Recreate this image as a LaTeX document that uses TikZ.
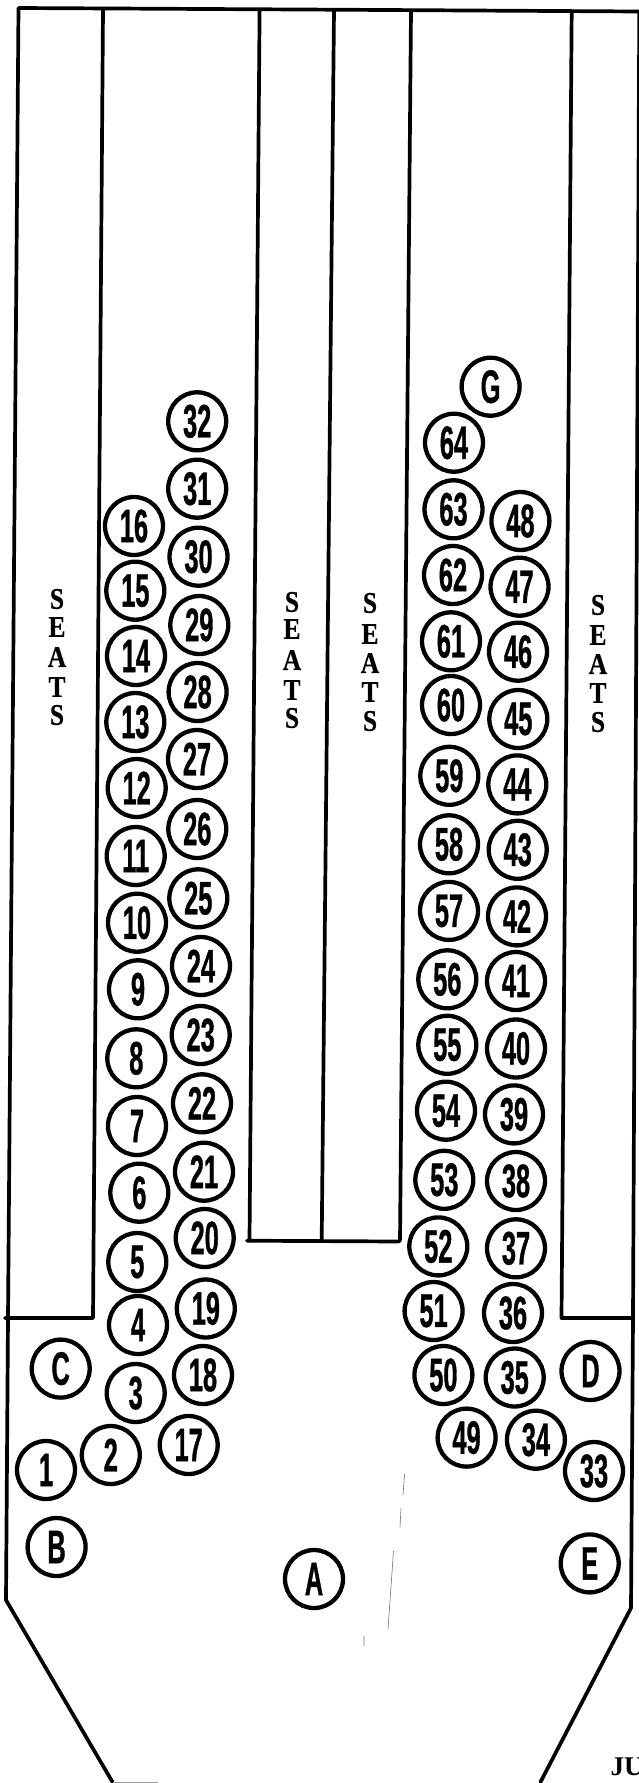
\documentclass[tikz,border=0pt]{standalone}
\usepackage{fontspec}
\newfontfamily\numfont{Liberation Sans}[FakeStretch=0.54,FakeBold=0.7]
\newfontfamily\seatfont{Liberation Serif}[FakeStretch=0.85,FakeBold=0.6]
\tikzset{
  wall/.style={line width=3.7pt,line join=round,line cap=round},
  seat/.style={circle,draw,line width=4.3pt,minimum size=58pt,inner sep=0pt,outer sep=0pt,
    font=\numfont\bfseries\fontsize{47}{47}\selectfont},
  seatletter/.style={inner sep=0pt,font=\seatfont\bfseries\fontsize{30}{30}\selectfont},
  speck/.style={line width=0.6pt,black!55}
}
\begin{document}
\begin{tikzpicture}[x=1pt,y=-1pt]
\useasboundingbox (0,0) rectangle (639,1783);
\clip (0,0) rectangle (639,1783);
% outer walls
\draw[wall] (112.5,1782) -- (6,1600) -- (8,1318) -- (18.5,8) -- (300,9.5) -- (640,11.5);
\draw[wall] (540.5,1782) -- (631,1608) -- (633,1318) -- (639.3,12);
% inner walls
\draw[wall] (5,1318) -- (93,1318) -- (103,10);
\draw[wall] (633,1318) -- (561.5,1318) -- (571.7,12);
\draw[wall] (259.6,10) -- (249.5,1240.7);
\draw[wall] (334,10.5) -- (321.7,1240.7);
\draw[wall,rounded corners=2pt] (247,1240.7) -- (400,1241.5) -- (411,11);
% faint bottom edge
\draw[line width=1.2pt,black!40] (113,1782.4) -- (158,1782.4);
% scan marks
\draw[speck] (404.6,1474) -- (403,1495) (401,1508) -- (400,1527) (393.5,1551) -- (388,1629) (364,1636) -- (364,1646);
% seats
\foreach \n/\x/\y in {
 1/46/1470, 2/110.8/1455, 3/135.7/1393, 4/138/1325, 5/137.3/1262, 6/139.3/1192.7, 7/137/1126,
 8/136.3/1058.3, 9/138/989.3, 10/137/922.7, 11/135.7/856, 12/136.7/788, 13/135.3/722, 14/136/656,
 15/135.3/590.7, 16/134/526,
 17/188.7/1445, 18/203/1375, 19/205.8/1308.5, 20/204.7/1238, 21/204/1171.7, 22/202/1103.3,
 23/200.7/1035, 24/201/966, 25/198.3/898.3, 26/197.3/829, 27/197/759, 28/197.6/692, 29/199.3/625,
 30/198.5/556.7, 31/197.2/488.7, 32/197.2/421.3,
 33/594/1471, 34/535.9/1439.7, 35/514.7/1377.5, 36/513/1313, 37/516/1248.3, 38/516/1181, 39/514/1114.4,
 40/516/1048.5, 41/516/981, 42/517/916.4, 43/517.7/849.8, 44/517.3/784.4, 45/518.3/719, 46/518/651.7,
 47/519.5/586.7, 48/520.4/521,
 49/466.6/1437.6, 50/443.4/1375, 51/433.6/1311, 52/438.3/1246.4, 53/444.3/1179.8, 54/446/1110.7,
 55/447.3/1044.8, 56/447.3/979.3, 57/449/910.9, 58/449/844.3, 59/449.3/775.8, 60/451/705,
 61/451/641.3, 62/453/575, 63/453.5/509.3, 64/454/442.7,
 A/314/1579, B/56.6/1547, C/60.7/1368.6, D/590.5/1371, E/589.7/1563.4, G/490.6/386.7}
 {\node[seat] (s\n) at (\x,\y) {\n};}
% SEATS labels
\foreach \k/\x/\ya/\yb/\yc/\yd/\ye in {
 a/57/599/627/657/687/715, b/292/602/629/660/690/718, c/370/603/634/663/692/721, d/598/605/635/664/693/722}{
 \node[seatletter] (\k1) at (\x,\ya) {S};
 \node[seatletter] (\k2) at (\x,\yb) {E};
 \node[seatletter] (\k3) at (\x,\yc) {A};
 \node[seatletter] (\k4) at (\x,\yd) {T};
 \node[seatletter] (\k5) at (\x,\ye) {S};
}
% cropped note
\node[anchor=base west,inner sep=0pt,font=\fontspec{Liberation Serif}\bfseries\fontsize{27}{27}\selectfont] (note) at (610.5,1775) {JU};
\end{tikzpicture}
\end{document}
